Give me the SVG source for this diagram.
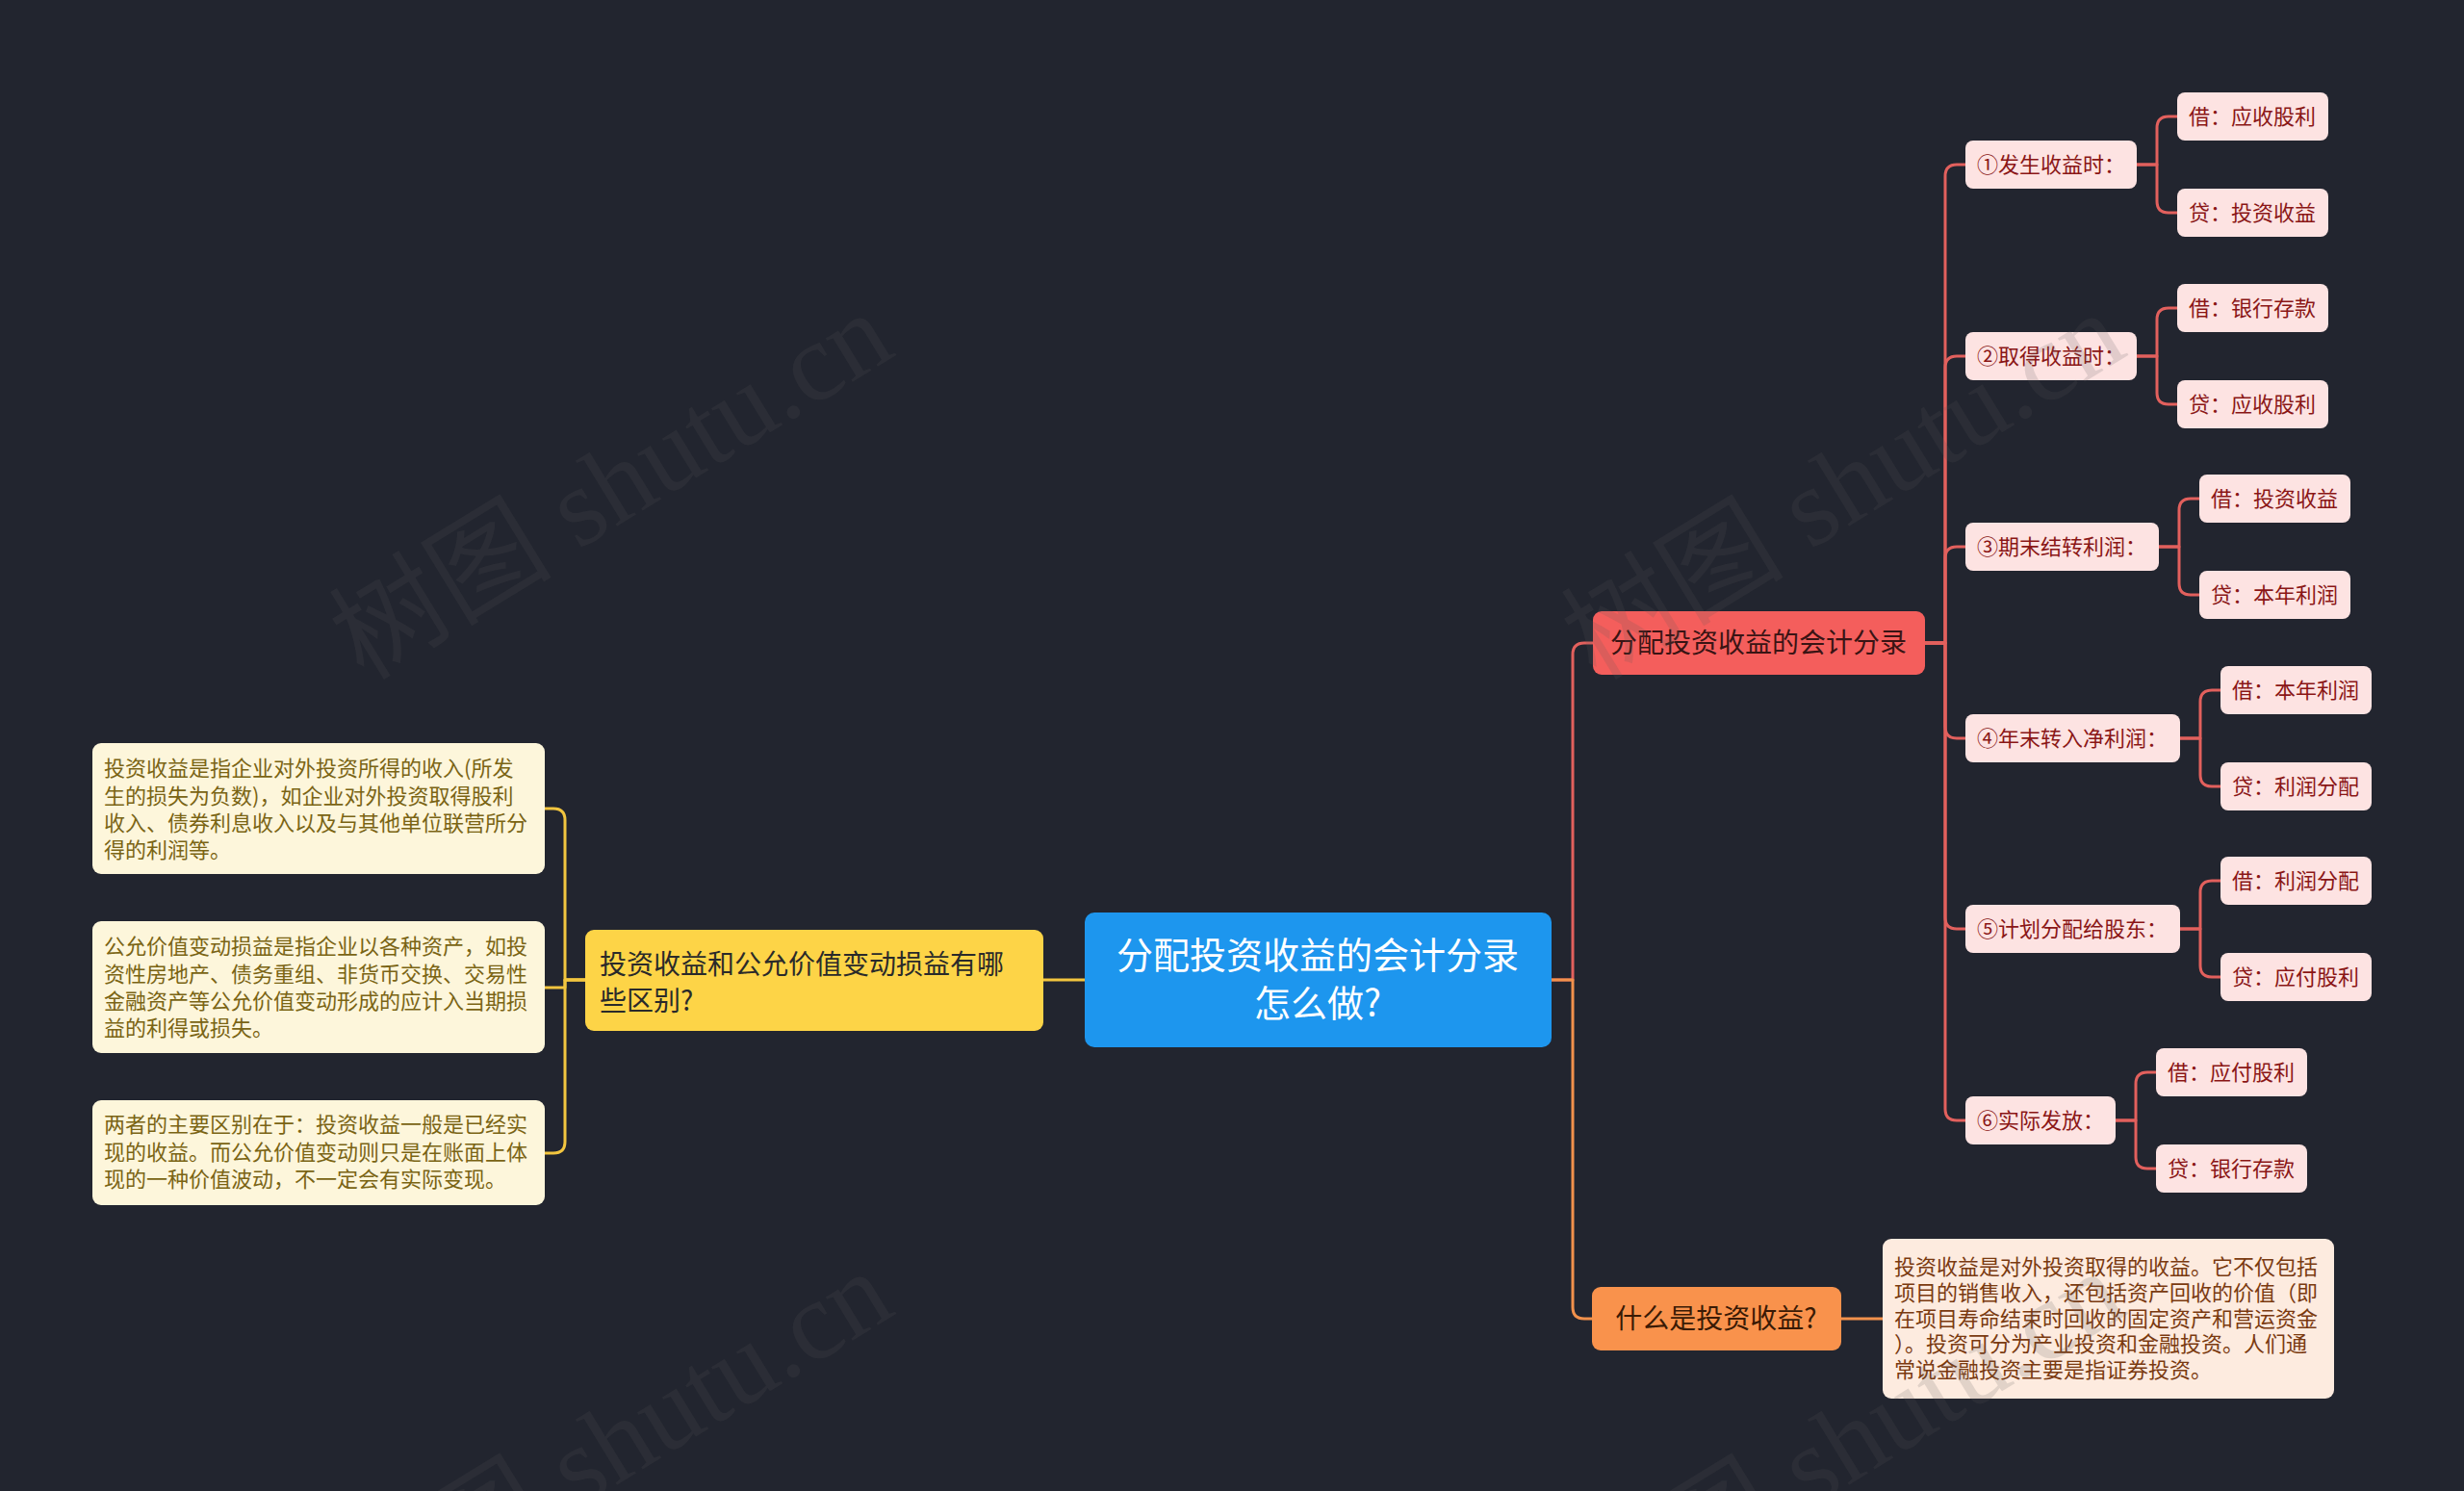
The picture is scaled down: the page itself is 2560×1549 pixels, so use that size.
<svg xmlns="http://www.w3.org/2000/svg" width="2560" height="1549" viewBox="0 0 2560 1549">
<style>
text{font-family:"Noto Sans CJK SC","Noto Sans",sans-serif;}
.c{fill:none;stroke-width:3;stroke-linecap:round;stroke-linejoin:round;}
.cr{stroke:#E2605D;}
.co{stroke:#F2914C;}
.cy{stroke:#F2C53F;}
.pink{fill:#FDE3E2;}
.pt{fill:#8A1616;font-size:22px;text-anchor:middle;}
.cream{fill:#FDF6DB;}
.ct{fill:#7A6414;font-size:22px;}
.peach{fill:#FDEBDF;}
.pet{fill:#7A3A10;font-size:22px;}
.wm{font-family:"Liberation Serif","Noto Sans CJK SC",serif;font-size:116px;fill:rgba(90,90,90,0.17);}
</style>
<rect width="2560" height="1549" fill="#22252F"/>
<g id="connectors">
<path class="c cy" d="M1127 1018 H1084"/>
<path class="c cy" d="M608 1018 H587 V852 Q587 840 575 840 H566"/>
<path class="c cy" d="M608 1018 H587 V1026 H566"/>
<path class="c cy" d="M608 1018 H587 V1186 Q587 1198 575 1198 H566"/>
<path class="c cr" d="M1612 1018 H1634 V680 Q1634 668 1646 668 H1655"/>
<path class="c co" d="M1612 1018 H1634 V1358 Q1634 1370 1646 1370 H1654"/>
<path class="c co" d="M1913 1370 H1956"/>
<path class="c cr" d="M2000 668 H2021 V183 Q2021 171 2033 171 H2042"/>
<path class="c cr" d="M2000 668 H2021 V382 Q2021 370 2033 370 H2042"/>
<path class="c cr" d="M2000 668 H2021 V580 Q2021 568 2033 568 H2042"/>
<path class="c cr" d="M2000 668 H2021 V755 Q2021 767 2033 767 H2042"/>
<path class="c cr" d="M2000 668 H2021 V953 Q2021 965 2033 965 H2042"/>
<path class="c cr" d="M2000 668 H2021 V1152 Q2021 1164 2033 1164 H2042"/>
<path class="c cr" d="M2220 171 H2241 V133 Q2241 121 2253 121 H2262"/>
<path class="c cr" d="M2220 171 H2241 V209 Q2241 221 2253 221 H2262"/>
<path class="c cr" d="M2220 370 H2241 V332 Q2241 320 2253 320 H2262"/>
<path class="c cr" d="M2220 370 H2241 V408 Q2241 420 2253 420 H2262"/>
<path class="c cr" d="M2243 568 H2264 V530 Q2264 518 2276 518 H2285"/>
<path class="c cr" d="M2243 568 H2264 V606 Q2264 618 2276 618 H2285"/>
<path class="c cr" d="M2265 767 H2286 V729 Q2286 717 2298 717 H2307"/>
<path class="c cr" d="M2265 767 H2286 V805 Q2286 817 2298 817 H2307"/>
<path class="c cr" d="M2265 965 H2286 V927 Q2286 915 2298 915 H2307"/>
<path class="c cr" d="M2265 965 H2286 V1003 Q2286 1015 2298 1015 H2307"/>
<path class="c cr" d="M2198 1164 H2219 V1126 Q2219 1114 2231 1114 H2240"/>
<path class="c cr" d="M2198 1164 H2219 V1202 Q2219 1214 2231 1214 H2240"/>
</g>
<g id="root">
<rect x="1127" y="948" width="485" height="140" rx="10" fill="#1D96EE"/>
<text x="1369" y="1006" font-size="38" fill="#FFFFFF" text-anchor="middle">分配投资收益的会计分录</text>
<text x="1369" y="1056" font-size="38" fill="#FFFFFF" text-anchor="middle">怎么做?</text>
</g>
<g id="n-diff">
<rect x="608" y="966" width="476" height="105" rx="9" fill="#FDD447"/>
<text x="623" y="1012" font-size="28" fill="#2A2A2A">投资收益和公允价值变动损益有哪</text>
<text x="623" y="1050" font-size="28" fill="#2A2A2A">些区别?</text>
</g>
<g id="n-diff-1">
<rect class="cream" x="96" y="772" width="470" height="136" rx="9"/>
<text class="ct" x="108" y="806">投资收益是指企业对外投资所得的收入(所发</text>
<text class="ct" x="108" y="835">生的损失为负数)，如企业对外投资取得股利</text>
<text class="ct" x="108" y="863">收入、债券利息收入以及与其他单位联营所分</text>
<text class="ct" x="108" y="891">得的利润等。</text>
</g>
<g id="n-diff-2">
<rect class="cream" x="96" y="957" width="470" height="137" rx="9"/>
<text class="ct" x="108" y="991">公允价值变动损益是指企业以各种资产，如投</text>
<text class="ct" x="108" y="1020">资性房地产、债务重组、非货币交换、交易性</text>
<text class="ct" x="108" y="1048">金融资产等公允价值变动形成的应计入当期损</text>
<text class="ct" x="108" y="1076">益的利得或损失。</text>
</g>
<g id="n-diff-3">
<rect class="cream" x="96" y="1143" width="470" height="109" rx="9"/>
<text class="ct" x="108" y="1176">两者的主要区别在于：投资收益一般是已经实</text>
<text class="ct" x="108" y="1205">现的收益。而公允价值变动则只是在账面上体</text>
<text class="ct" x="108" y="1233">现的一种价值波动，不一定会有实际变现。</text>
</g>
<g id="n-entry">
<rect x="1655" y="635" width="345" height="66" rx="9" fill="#F45E5C"/>
<text x="1827" y="678" font-size="28" fill="#3A1414" text-anchor="middle">分配投资收益的会计分录</text>
</g>
<g id="n-what">
<rect x="1654" y="1337" width="259" height="66" rx="9" fill="#F9924C"/>
<text x="1783" y="1380" font-size="28" fill="#3A1A05" text-anchor="middle">什么是投资收益?</text>
</g>
<g id="n-what-1">
<rect class="peach" x="1956" y="1287" width="469" height="166" rx="9"/>
<text class="pet" x="1968" y="1324">投资收益是对外投资取得的收益。它不仅包括</text>
<text class="pet" x="1968" y="1351">项目的销售收入，还包括资产回收的价值（即</text>
<text class="pet" x="1968" y="1378">在项目寿命结束时回收的固定资产和营运资金</text>
<text class="pet" x="1968" y="1404">）。投资可分为产业投资和金融投资。人们通</text>
<text class="pet" x="1968" y="1431">常说金融投资主要是指证券投资。</text>
</g>
<g id="s1">
<rect class="pink" x="2042" y="146" width="178" height="50" rx="8"/>
<text class="pt" x="2131" y="179">①发生收益时：</text>
</g>
<g id="s1a"><rect class="pink" x="2262" y="96" width="157" height="50" rx="8"/><text class="pt" x="2340" y="129">借：应收股利</text></g>
<g id="s1b"><rect class="pink" x="2262" y="196" width="157" height="50" rx="8"/><text class="pt" x="2340" y="229">贷：投资收益</text></g>
<g id="s2">
<rect class="pink" x="2042" y="345" width="178" height="50" rx="8"/>
<text class="pt" x="2131" y="378">②取得收益时：</text>
</g>
<g id="s2a"><rect class="pink" x="2262" y="295" width="157" height="50" rx="8"/><text class="pt" x="2340" y="328">借：银行存款</text></g>
<g id="s2b"><rect class="pink" x="2262" y="395" width="157" height="50" rx="8"/><text class="pt" x="2340" y="428">贷：应收股利</text></g>
<g id="s3">
<rect class="pink" x="2042" y="543" width="201" height="50" rx="8"/>
<text class="pt" x="2142" y="576">③期末结转利润：</text>
</g>
<g id="s3a"><rect class="pink" x="2285" y="493" width="157" height="50" rx="8"/><text class="pt" x="2363" y="526">借：投资收益</text></g>
<g id="s3b"><rect class="pink" x="2285" y="593" width="157" height="50" rx="8"/><text class="pt" x="2363" y="626">贷：本年利润</text></g>
<g id="s4">
<rect class="pink" x="2042" y="742" width="223" height="50" rx="8"/>
<text class="pt" x="2153" y="775">④年末转入净利润：</text>
</g>
<g id="s4a"><rect class="pink" x="2307" y="692" width="157" height="50" rx="8"/><text class="pt" x="2385" y="725">借：本年利润</text></g>
<g id="s4b"><rect class="pink" x="2307" y="792" width="157" height="50" rx="8"/><text class="pt" x="2385" y="825">贷：利润分配</text></g>
<g id="s5">
<rect class="pink" x="2042" y="940" width="223" height="50" rx="8"/>
<text class="pt" x="2153" y="973">⑤计划分配给股东：</text>
</g>
<g id="s5a"><rect class="pink" x="2307" y="890" width="157" height="50" rx="8"/><text class="pt" x="2385" y="923">借：利润分配</text></g>
<g id="s5b"><rect class="pink" x="2307" y="990" width="157" height="50" rx="8"/><text class="pt" x="2385" y="1023">贷：应付股利</text></g>
<g id="s6">
<rect class="pink" x="2042" y="1139" width="156" height="50" rx="8"/>
<text class="pt" x="2120" y="1172">⑥实际发放：</text>
</g>
<g id="s6a"><rect class="pink" x="2240" y="1089" width="157" height="50" rx="8"/><text class="pt" x="2318" y="1122">借：应付股利</text></g>
<g id="s6b"><rect class="pink" x="2240" y="1189" width="157" height="50" rx="8"/><text class="pt" x="2318" y="1222">贷：银行存款</text></g>
<g id="watermarks">
<text class="wm" x="378" y="708" transform="rotate(-31.5 378 708)">树图 shutu.cn</text>
<text class="wm" x="1658" y="708" transform="rotate(-31.5 1658 708)">树图 shutu.cn</text>
<text class="wm" x="378" y="1704" transform="rotate(-31.5 378 1704)">树图 shutu.cn</text>
<text class="wm" x="1658" y="1704" transform="rotate(-31.5 1658 1704)">树图 shutu.cn</text>
</g>
</svg>
